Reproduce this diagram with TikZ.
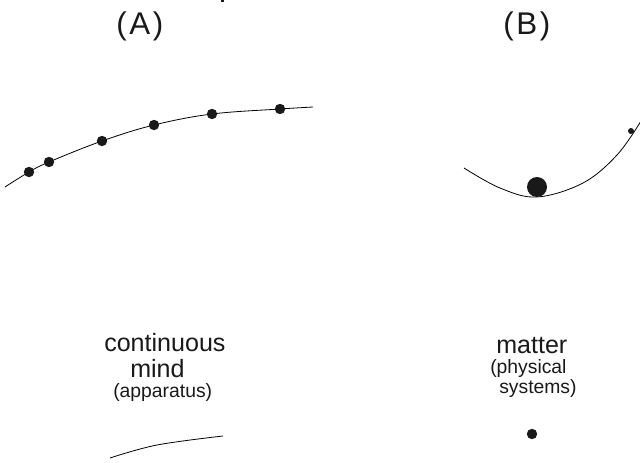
\documentclass[tikz,border=0pt]{standalone}
\usepackage{fontspec}
\setmainfont{Liberation Sans}
\begin{document}
\begin{tikzpicture}[x=0.75pt,y=-0.75pt,
  curve/.style={line width=0.6pt, black},
  dotA/.style={circle, fill=black!90, inner sep=0pt, minimum size=7.8pt},
  lbl/.style={anchor=base west, inner sep=0pt, text=black!90},
  big/.style={lbl, font=\fontsize{23.5pt}{26pt}\selectfont},
  mid/.style={lbl, font=\fontsize{18.8pt}{20pt}\selectfont},
  small/.style={lbl, font=\fontsize{14.5pt}{16pt}\selectfont}]
\useasboundingbox (0,0) rectangle (640,463);
% tiny cropped fragment at top
\fill[black!90] (221,0) rectangle (224,2.5);
% titles
\node[big] (tA) at (116,35) {(\kern2pt A\kern2pt)};
\node[big] (tB) at (503,35) {(\kern2pt B\kern2pt)};
% curve A
\draw[curve] plot[smooth, tension=0.6] coordinates {(5,187) (29,172) (49,162) (102,141) (154,125) (212,114) (280,109) (313,107)};
\node[dotA] (a1) at (29,172) {};
\node[dotA] (a2) at (49,162) {};
\node[dotA] (a3) at (102,141) {};
\node[dotA] (a4) at (154,125) {};
\node[dotA] (a5) at (212,114) {};
\node[dotA] (a6) at (280,109) {};
% curve B
\draw[curve] plot[smooth, tension=0.6] coordinates {(464,168) (500,188) (537,197) (583,183) (617,155) (641,121)};
\node[circle, fill=black!90, inner sep=0pt, minimum size=15pt] (bb) at (537,187) {};
\node[circle, fill=black!90, inner sep=0pt, minimum size=4.5pt] (bs) at (631,131) {};
% labels left
\node[mid] (c1) at (104,352) {continuous};
\node[mid] (c2) at (130,378) {mind};
\node[small] (c3) at (113,398) {(apparatus)};
\draw[curve] plot[smooth, tension=0.6] coordinates {(110,458) (157,445) (223,436)};
% labels right
\node[mid] (m1) at (496,354) {matter};
\node[small] (m2) at (490,374) {(physical};
\node[small] (m3) at (499,394) {systems)};
\node[circle, fill=black!90, inner sep=0pt, minimum size=7.8pt] (md) at (532,434) {};
\end{tikzpicture}
\end{document}
